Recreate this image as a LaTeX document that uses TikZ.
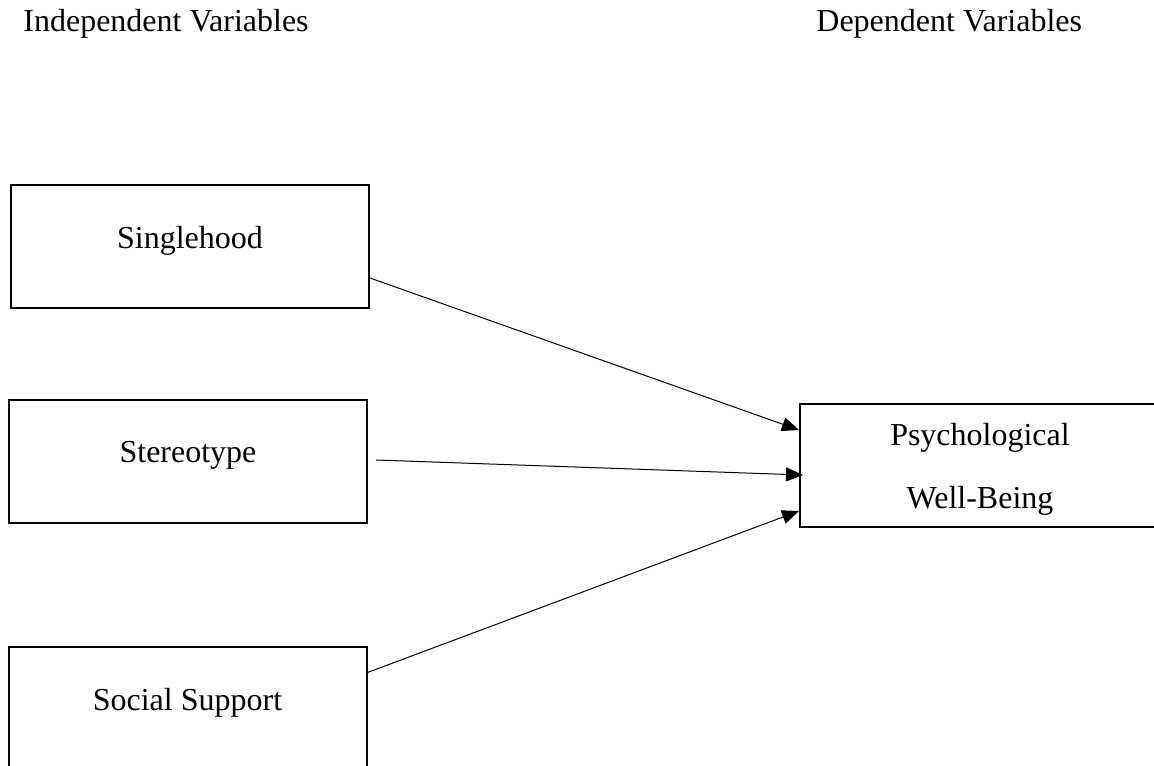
\documentclass[tikz,border=0pt]{standalone}
\usepackage{fontspec}
\setmainfont{Liberation Serif}
\usetikzlibrary{arrows.meta}

\tikzset{
  varbox/.style={draw, line width=1pt, minimum width=179pt, minimum height=61.5pt,
    inner sep=0pt, text height=8pt, text depth=6.5pt, font=\fontsize{16}{31.5}\selectfont},
  heading/.style={anchor=base west, inner sep=0pt, font=\fontsize{16}{19}\selectfont},
  link/.style={line width=0.5pt, -{Triangle[length=8.5pt,width=7pt]}}
}

\begin{document}
\begin{tikzpicture}[x=0.5pt, y=-0.5pt]
    \useasboundingbox (0,0) rectangle (1154,765);

    % Headings
    \node[heading] (indep) at (23,32) {Independent Variables};
    \node[heading] (dep) at (816,32) {Dependent Variables};

    % Draw the boxes
    \node[varbox] (single) at (190,246.5) {Singlehood};
    \node[varbox] (stereo) at (188,461) {Stereotype};
    \node[varbox] (social) at (187.5,708.5) {Social Support};
    \node[varbox, minimum width=180pt, align=center, text height=49.5pt] (psych) at (980,465)
      {Psychological\\Well-Being};

    % Arrows into the dependent variable
    \draw[link] ([yshift=-15.75pt]single.east) -- ([yshift=17.5pt]psych.west);
    \draw[link] ([xshift=4pt,yshift=0.5pt]stereo.east) -- ([xshift=2pt,yshift=-5pt]psych.west);
    \draw[link] ([yshift=18pt]social.east) -- ([yshift=-23pt]psych.west);
  \end{tikzpicture}
\end{document}
